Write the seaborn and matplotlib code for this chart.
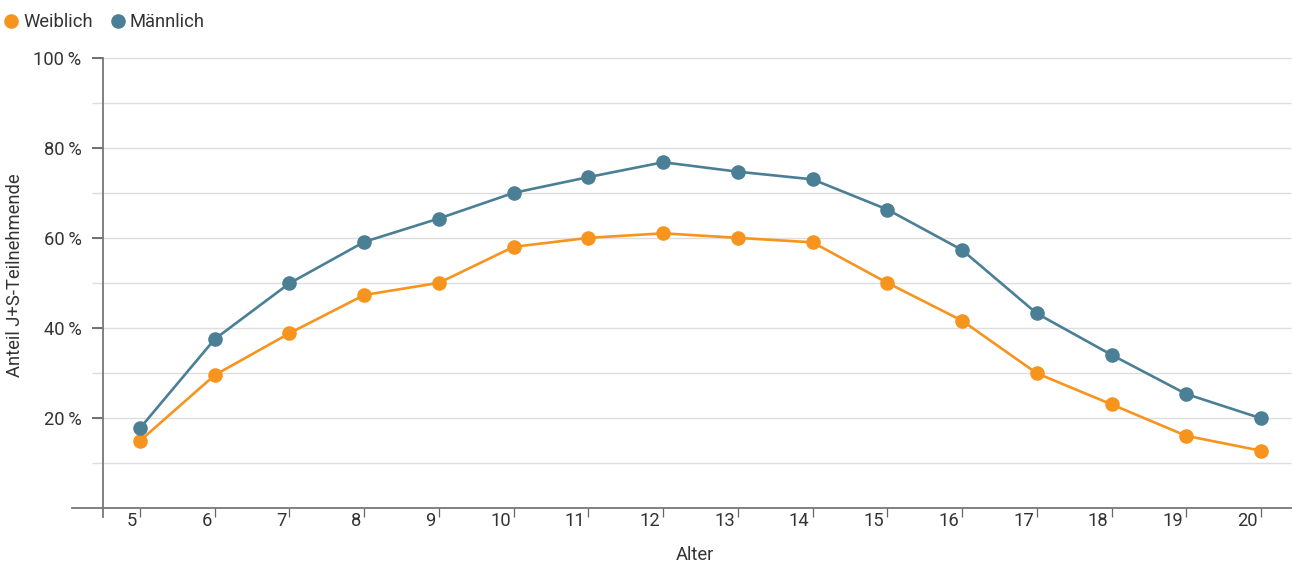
import matplotlib
matplotlib.use("Agg")
import matplotlib.pyplot as plt
import matplotlib.transforms as mtransforms
from matplotlib.lines import Line2D
import pandas as pd
import seaborn as sns

# Anteil J+S-Teilnehmende nach Alter und Geschlecht (in %)
alter = list(range(5, 21))
weiblich = [15.0, 29.6, 38.9, 47.4, 50.1, 58.1, 60.1, 61.1, 60.1, 59.1, 50.1, 41.7, 30.0, 23.1, 16.1, 12.8]
maennlich = [17.8, 37.6, 50.0, 59.2, 64.4, 70.1, 73.6, 76.9, 74.8, 73.1, 66.4, 57.4, 43.3, 34.1, 25.4, 20.0]
serien = ["Weiblich", "Männlich"]
farben = ["#F7941D", "#4A7F96"]
y_ticks = [20, 40, 60, 80, 100]
y_grid = [10, 20, 30, 40, 50, 60, 70, 80, 90, 100]

df = pd.DataFrame({
    "Alter": alter * 2,
    "Anteil": weiblich + maennlich,
    "Geschlecht": [serien[0]] * len(alter) + [serien[1]] * len(alter),
})

sns.set_style("white")
plt.rcParams["font.family"] = ["Roboto", "DejaVu Sans"]
text_col = "#333333"
axis_col = "#777777"
fs = 13.2

W, H, DPI = 1293, 563, 100
fig = plt.figure(figsize=(W / DPI, H / DPI), dpi=DPI)
ax = fig.add_axes([72 / W, 1 - 508.3 / H, (1291 - 72) / W, (508.3 - 58.3) / H])

step = (1261 - 140) / 15
ax.set_xlim(5 - 68 / step, 20 + 30 / step)
ax.set_ylim(0, 100)

# horizontale Hilfslinien alle 10 %
grid_x0 = 5 - 48 / step
ax.hlines(y_grid, grid_x0, ax.get_xlim()[1], color="#dedede", lw=1.0, zorder=0, clip_on=False)

sns.lineplot(data=df, x="Alter", y="Anteil", hue="Geschlecht", hue_order=serien,
             palette=farben, marker="o", markersize=10.5, markeredgewidth=0,
             linewidth=1.9, legend=False, ax=ax, zorder=3)

for s in ["top", "right"]:
    ax.spines[s].set_visible(False)
ax.spines["left"].set_position(("data", 5 - 37 / step))
ax.spines["left"].set_bounds(-2, 100)
ax.spines["left"].set_color(axis_col)
ax.spines["left"].set_linewidth(1.3)
ax.spines["bottom"].set_color(axis_col)
ax.spines["bottom"].set_linewidth(1.3)

ax.set_yticks(y_ticks)
ax.set_yticklabels([f"{v}\u2009%" for v in y_ticks])
ax.tick_params(axis="y", length=7.9, width=1.3, color="#666666", pad=7.5,
               labelsize=fs, labelcolor=text_col, direction="out", left=True)

ax.set_xticks(alter)
ax.set_xticklabels([str(a) for a in alter])
ax.tick_params(axis="x", length=6.5, width=0.9, color="#666666", pad=-3.8,
               labelsize=fs, labelcolor=text_col, direction="out", bottom=True)
shift = mtransforms.ScaledTranslation(-3 / DPI, 0, fig.dpi_scale_trans)
for lab in ax.get_xticklabels():
    lab.set_horizontalalignment("right")
    lab.set_transform(lab.get_transform() + shift)

ax.set_xlabel("")
ax.set_ylabel("")
fig.text(695 / W, 1 - 555 / H, "Alter", ha="center", va="center", fontsize=fs, color=text_col)
fig.text(15 / W, 1 - 275 / H, "Anteil J+S-Teilnehmende", rotation=90, ha="center", va="center",
         fontsize=fs, color=text_col)

handles = [Line2D([], [], marker="o", ls="none", color=c, markersize=10.5, markeredgewidth=0)
           for c in farben]
fig.legend(handles, serien, loc="upper left", bbox_to_anchor=(5 / W, 1 - 13 / H), ncol=2,
           frameon=False, handlelength=0.7, handletextpad=0.3, columnspacing=1.0,
           borderpad=0, borderaxespad=0, fontsize=fs, labelcolor=text_col)

fig.savefig("out.png", dpi=DPI)
